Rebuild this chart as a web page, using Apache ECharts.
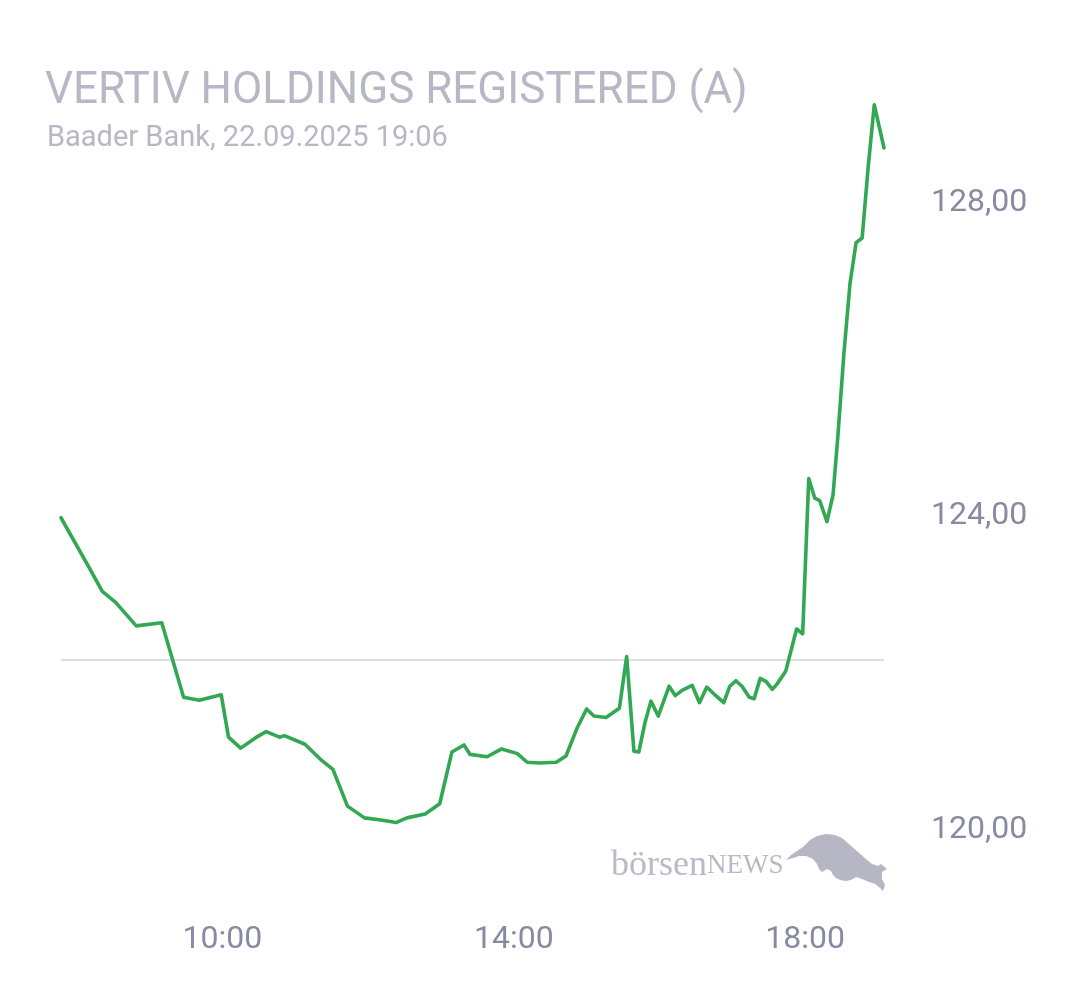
<!DOCTYPE html>
<html>
<head>
<meta charset="utf-8">
<title>VERTIV HOLDINGS REGISTERED (A)</title>
<script src="https://cdn.jsdelivr.net/npm/echarts@6/dist/echarts.min.js"></script>
<style>
  html, body { margin: 0; padding: 0; background: #fff; }
  #chart { width: 1080px; height: 990px; }
</style>
</head>
<body>
<div id="chart"></div>
<script>
// Kurszeitpunkte (Uhrzeit) und Kurse
const times = [
  '07:47', '08:11', '08:21', '08:32', '08:49', '09:10', '09:28', '09:41', '09:59', '10:05',
  '10:15', '10:28', '10:36', '10:47', '10:51', '11:08', '11:22', '11:31', '11:43', '11:57',
  '12:12', '12:23', '12:32', '12:47', '12:59', '13:09', '13:19', '13:24', '13:38', '13:50',
  '14:03', '14:11', '14:21', '14:35', '14:43', '14:52', '15:00', '15:06', '15:16', '15:27',
  '15:33', '15:39', '15:43', '15:48', '15:53', '15:59', '16:08', '16:13', '16:19', '16:27',
  '16:33', '16:39', '16:45', '16:53', '16:58', '17:03', '17:08', '17:14', '17:18', '17:23',
  '17:28', '17:33', '17:37', '17:44', '17:53', '17:58', '18:03', '18:08', '18:12', '18:18',
  '18:23', '18:27', '18:32', '18:37', '18:42', '18:47', '18:52', '18:57', '19:05'
];
const prices = [
  123.98, 123.32, 123.04, 122.90, 122.60, 122.64, 121.69, 121.65, 121.72, 121.18,
  121.04, 121.18, 121.25, 121.18, 121.20, 121.09, 120.88, 120.77, 120.30, 120.15,
  120.12, 120.09, 120.15, 120.20, 120.33, 120.99, 121.08, 120.96, 120.93, 121.03,
  120.97, 120.86, 120.85, 120.86, 120.94, 121.29, 121.54, 121.45, 121.43, 121.55,
  122.21, 121.00, 120.99, 121.36, 121.64, 121.45, 121.83, 121.71, 121.78, 121.84,
  121.62, 121.82, 121.73, 121.62, 121.83, 121.90, 121.83, 121.69, 121.67, 121.93,
  121.89, 121.79, 121.86, 122.02, 122.56, 122.50, 124.48, 124.23, 124.20, 123.93,
  124.27, 125.02, 126.08, 126.97, 127.49, 127.55, 128.46, 129.25, 128.70
];
const prevClose = 122.17;
const xTicks = [10, 14, 18];
const yTicks = [120, 124, 128];

const toHours = t => {
  const [h, m] = t.split(':').map(Number);
  return h + m / 60;
};
const seriesData = times.map((t, i) => [toHours(t), prices[i]]);

const chart = echarts.init(document.getElementById('chart'), null, {renderer: 'canvas'});

const option = {
  backgroundColor: '#fff',
  animation: false,
  title: [
    {
      text: 'VERTIV HOLDINGS REGISTERED (A)',
      left: 40,
      top: 65,
      textStyle: {
        fontFamily: 'Roboto',
        fontSize: 44,
        fontWeight: 'normal',
        color: '#b7b7c5',
      },
    },
    {
      text: 'Baader Bank, 22.09.2025 19:06',
      left: 42,
      top: 119,
      textStyle: {
        fontFamily: 'Roboto',
        fontSize: 29,
        fontWeight: 'normal',
        color: '#b7b7c5',
      },
    },
  ],
  grid: {
    left: 61,
    right: 196,
    top: 46,
    bottom: 82,
  },
  xAxis: {
    type: 'value',
    min: 'dataMin',
    max: 'dataMax',
    axisLine: {show: false},
    axisTick: {show: false},
    splitLine: {show: false},
    axisLabel: {
      customValues: xTicks,
      margin: 16,
      fontFamily: 'Roboto',
      fontSize: 32,
      color: '#878aa0',
      formatter: v => String(v).padStart(2, '0') + ':00',
    },
  },
  yAxis: {
    type: 'value',
    position: 'right',
    min: 119,
    max: 130,
    axisLine: {show: false},
    axisTick: {show: false},
    splitLine: {show: false},
    axisLabel: {
      customValues: yTicks,
      margin: 47,
      fontFamily: 'Roboto',
      fontSize: 32,
      color: '#878aa0',
      verticalAlign: 'middle',
      padding: [10, 0, 0, 0],
      formatter: v => v.toFixed(2).replace('.', ','),
    },
  },
  series: [
    {
      type: 'line',
      data: seriesData,
      showSymbol: false,
      symbol: 'none',
      lineStyle: {color: '#33a852', width: 3.6, join: 'round', cap: 'round'},
      z: 3,
      markLine: {
        silent: true,
        symbol: 'none',
        label: {show: false},
        lineStyle: {color: '#dedede', width: 2, type: 'solid'},
        data: [{yAxis: prevClose}],
        z: 1,
      },
    },
  ],
  graphic: [
    {
      type: 'text',
      left: 611,
      top: 848,
      z: 0,
      style: {
        text: '{a|börsen}{b|NEWS}',
        rich: {
          a: {fontFamily: 'Liberation Serif', fontSize: 36, fill: '#b9b9c7'},
          b: {fontFamily: 'Liberation Serif', fontSize: 27, fill: '#b9b9c7'},
        },
      },
    },
    {
      // Stier des Logos, grob nachgezeichnet
      type: 'polygon',
      z: 0,
      shape: {
        points: [
          [786, 860], [791, 855], [797, 851], [803, 847], [810, 840], [817, 836],
          [826, 834], [835, 835], [842, 838], [850, 845], [858, 852], [866, 859],
          [872, 864], [878, 866], [881, 864], [887, 869], [882, 872], [882, 879],
          [885, 885], [883, 891], [879, 887], [875, 884], [869, 882], [862, 879],
          [856, 877], [851, 880], [846, 881], [840, 880], [836, 878], [833, 875],
          [831, 871], [827, 869], [822, 872], [819, 869], [817, 864], [813, 859],
          [806, 856], [799, 856], [793, 858]
        ],
      },
      style: {fill: '#b6b6c4'},
    },
  ],
};

chart.setOption(option);
</script>
</body>
</html>
